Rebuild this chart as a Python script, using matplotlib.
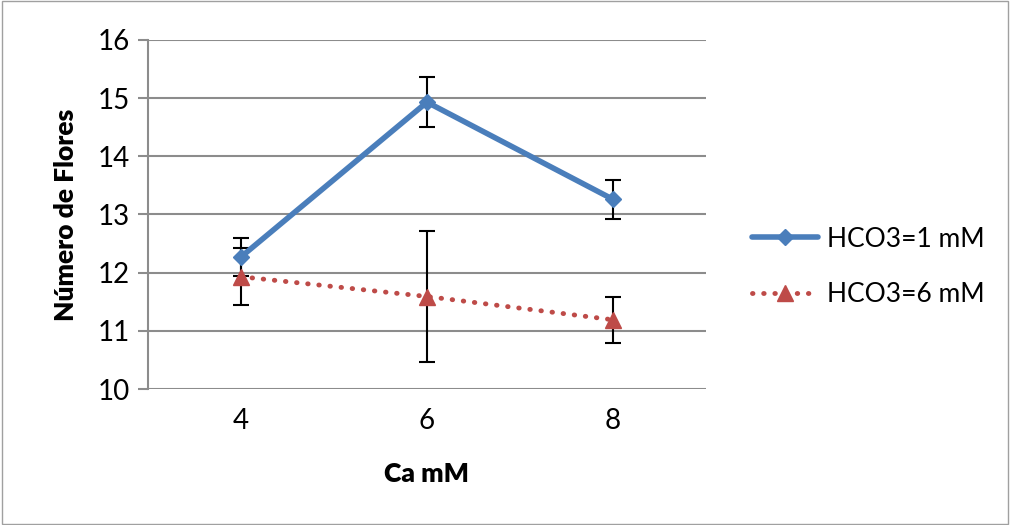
import numpy as np
import matplotlib.pyplot as plt
from matplotlib.patches import Rectangle

plt.rcParams['font.family'] = ['Lato', 'DejaVu Sans']

# Data
ca_labels = ['4', '6', '8']
hco3_1 = [12.27, 14.93, 13.26]
hco3_1_err = [0.33, 0.43, 0.33]
hco3_6 = [11.93, 11.59, 11.19]
hco3_6_err = [0.49, 1.12, 0.40]

x = np.arange(1, len(ca_labels) + 1)

fig = plt.figure(figsize=(10.1, 5.25), dpi=100)
ax = fig.add_axes([0.1465, 0.259, 0.5525, 0.665])

grid_col = '#8c8c8c'
blue = '#4a7ebb'
red = '#be4b48'

ax.errorbar(x, hco3_1, yerr=hco3_1_err, fmt='none', ecolor='black',
            elinewidth=1.5, capsize=6, capthick=1.5, zorder=3)
ax.errorbar(x, hco3_6, yerr=hco3_6_err, fmt='none', ecolor='black',
            elinewidth=1.5, capsize=6, capthick=1.5, zorder=3)
ax.plot(x, hco3_1, color=blue, lw=4, marker='D', ms=8, label='HCO3=1 mM',
        solid_capstyle='round', zorder=4)
ax.plot(x, hco3_6, color=red, lw=3.5, linestyle=(0, (0.1, 2.2)),
        dash_capstyle='round', marker='^', ms=11, label='HCO3=6 mM', zorder=4)

ax.set_xlim(0.5, 3.5)
ax.set_ylim(10, 16)
ax.set_yticks(range(10, 17))
ax.set_xticks(x)
ax.set_xticklabels(ca_labels)
ax.yaxis.grid(True, color=grid_col, lw=1.5)
ax.set_axisbelow(True)
for s in ['top', 'right', 'bottom']:
    ax.spines[s].set_visible(False)
ax.spines['left'].set_color(grid_col)
ax.spines['left'].set_linewidth(1.5)
ax.tick_params(axis='y', length=7, width=1.5, color=grid_col, labelsize=20, pad=6)
ax.tick_params(axis='x', length=0, labelsize=20, pad=14)

ax.set_xlabel('Ca mM', fontsize=19, fontweight='heavy', labelpad=20)
ax.set_ylabel('Número de Flores', fontsize=19, fontweight='heavy', labelpad=14)

ax.legend(loc='center left', bbox_to_anchor=(1.04, 0.35), frameon=False,
          fontsize=19, handlelength=2.5, labelspacing=1.15, handletextpad=0.35)

fig.patches.append(Rectangle((0.002, 0.002), 0.996, 0.996, transform=fig.transFigure,
                             fill=False, edgecolor='#a0a0a0', lw=1))

fig.savefig('out.png', dpi=100)
